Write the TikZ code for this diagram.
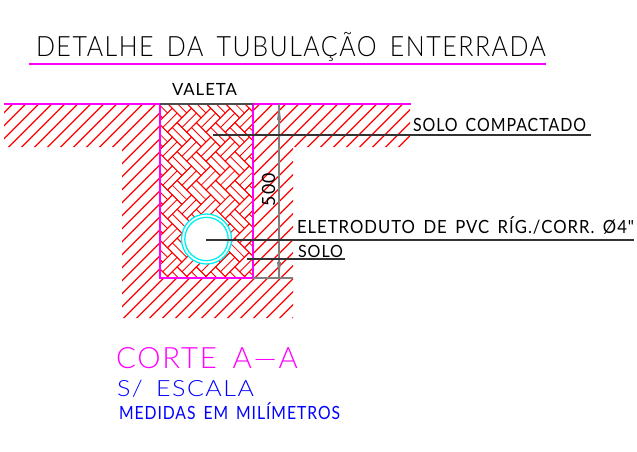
\documentclass[tikz,border=0pt]{standalone}
\usepackage{fontspec}
\newfontfamily\cad[LetterSpace=6,WordSpace=1.6]{Lato Light}
\newfontfamily\cadb[LetterSpace=6,WordSpace=1.6]{Lato}
\newcommand{\cadtext}[3]{\resizebox{#1pt}{#2pt}{\raisebox{0pt}[10pt][0pt]{\fontsize{14}{14}\selectfont\cad #3}}}
\newcommand{\cadtextb}[3]{\resizebox{#1pt}{#2pt}{\raisebox{0pt}[10pt][0pt]{\fontsize{14}{14}\selectfont\cadb #3}}}
\tikzset{
  x=1pt,y=1pt,
  lbl/.style={anchor=base west,inner sep=0pt,outer sep=0pt},
  hatchline/.style={red,line width=1.2pt},
  tile/.style={red,line width=0.85pt},
  edge/.style={magenta,line width=1.5pt},
  leader/.style={black!80,line width=1.1pt},
  dim/.style={black!50,line width=1.1pt},
  pipe/.style={cyan,line width=1.3pt}
}
\definecolor{magenta}{RGB}{255,0,255}
\definecolor{cyan}{RGB}{0,240,240}
\begin{document}
\begin{tikzpicture}
\useasboundingbox (0,0) rectangle (637,-451);
% soil hatch
\begin{scope}
\clip (4,-104) -- (410,-104) -- (410,-147) -- (293,-147) -- (293,-318) -- (122,-318) -- (122,-147) -- (4,-147) -- cycle;
\foreach \k in {0,...,50}{
  \draw[hatchline] ({116.7+13*\k-104},-104) -- ({116.7+13*\k-330},-330);
}
\end{scope}
% trench fill
\fill[white] (160,-104) rectangle (253,-278);
\begin{scope}
\clip (160,-104) rectangle (253,-278);
\begin{scope}[shift={(206,-190)},rotate=45,x=6.8pt,y=6.8pt]
\foreach \i in {-7,...,7}{
  \foreach \j in {-12,...,12}{
    \pgfmathsetmacro{\px}{5*\i-2*\j}
    \pgfmathsetmacro{\py}{\i+2*\j}
    \begin{scope}[shift={(\px,\py)}]
      \draw[tile] (0,0) rectangle (3,2);
      \draw[tile] (0,1) -- (3,1);
      \draw[tile] (3,0) rectangle (5,3);
      \draw[tile] (4,0) -- (4,3);
    \end{scope}
  }
}
\end{scope}
\end{scope}
% pipe
\coordinate (pc) at (206.5,-239);
\fill[white] (pc) circle (25);
\draw[pipe] (pc) circle (25);
\draw[pipe] (pc) circle (21.7);
% outlines
\coordinate (tl) at (4,-104);
\coordinate (tr) at (411,-104);
\coordinate (va) at (160,-104);
\coordinate (vb) at (253,-104);
\coordinate (vc) at (253,-278);
\coordinate (vd) at (160,-278);
\draw[edge] (tl) -- (tr);
\draw[edge] (va) -- (vd) -- (vc) -- (vb);
\draw[black!70,line width=1.3pt] (va) -- (vb);
% dimension
\coordinate (da) at (279,-104);
\coordinate (db) at (279,-278);
\coordinate (de) at (293,-278);
\draw[dim] (vc) -- (de);
\draw[dim] (da) -- (db);
\fill[black!50] (da) -- (277,-120) -- (281,-120) -- cycle;
\fill[black!50] (db) -- (277,-262) -- (281,-262) -- cycle;
\node[lbl,rotate=90] (dimtxt) at (275,-206) {\cadtextb{33}{13}{500}};
% title
\node[lbl] (title) at (36,-56) {\cadtext{510}{20}{DETALHE DA TUBULAÇÃO ENTERRADA}};
\coordinate (ta) at (29,-64);
\coordinate (tb) at (546,-64);
\draw[edge] (ta) -- (tb);
\node[lbl] (valeta) at (172,-95) {\cadtextb{65}{12}{VALETA}};
% leaders
\node[lbl] (solocomp) at (413,-131) {\cadtextb{173}{13}{SOLO COMPACTADO}};
\coordinate (l1a) at (213,-135);
\coordinate (l1b) at (591,-135);
\draw[leader] (l1a) -- (l1b);
\node[lbl] (eletro) at (297,-233) {\cadtextb{337}{13}{ELETRODUTO DE PVC RÍG./CORR. Ø4"}};
\coordinate (l2a) at (206,-240);
\coordinate (l2b) at (634,-240);
\draw[leader] (l2a) -- (l2b);
\node[lbl] (solo) at (298,-257) {\cadtextb{45}{12}{SOLO}};
\coordinate (l3a) at (247,-259);
\coordinate (l3b) at (345,-259);
\draw[leader] (l3a) -- (l3b);
% captions
\node[lbl,text=magenta] (corte) at (116,-368) {\cadtext{182}{21}{CORTE A—A}};
\node[lbl,text=blue] (escala) at (117,-396) {\cadtext{137}{16}{S/ ESCALA}};
\node[lbl,text=blue] (medidas) at (119,-419) {\cadtextb{221}{13}{MEDIDAS EM MILÍMETROS}};
\end{tikzpicture}
\end{document}
